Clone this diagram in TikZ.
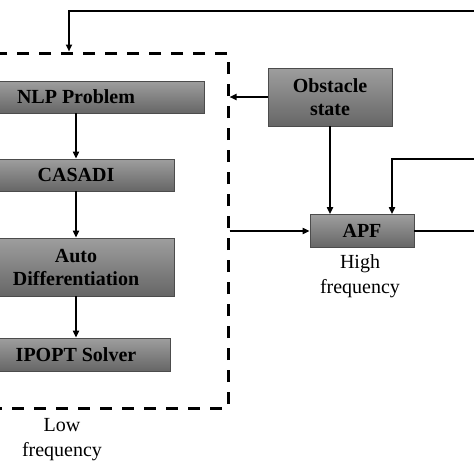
\documentclass[tikz,border=0pt]{standalone}
\usepackage{fontspec}
\setmainfont{Liberation Serif}
\usetikzlibrary{arrows.meta}

\begin{document}
\begin{tikzpicture}[x=1pt,y=-1pt,
  blk/.style={draw=black!70, line width=0.7pt, top color=black!38, bottom color=black!60,
    minimum height=32pt, inner sep=0pt, align=center,
    font=\fontsize{20}{23}\selectfont\bfseries},
  arr/.style={line width=2pt, -{Triangle[length=7pt,width=6pt]}},
  lbl/.style={align=center, font=\fontsize{20}{25}\selectfont}]
\useasboundingbox (0,0) rectangle (474,474);
\clip (0,0) rectangle (474,474);

\node[draw, line width=3pt, dash pattern=on 12pt off 10pt, minimum width=304pt,
  minimum height=355pt, inner sep=0pt] (low) at (76,230.5) {};

\node[blk, minimum width=256pt] (nlp) at (76,97) {NLP Problem};
\node[blk, minimum width=196pt] (cas) at (76,175) {CASADI};
\node[blk, minimum width=196pt, minimum height=58pt] (ad) at (76,267) {Auto\\Differentiation};
\node[blk, minimum width=188pt, minimum height=33pt] (ipopt) at (76,354.5) {IPOPT Solver};
\node[blk, minimum width=124pt, minimum height=58pt] (obs) at (330,97) {Obstacle\\state};
\node[blk, minimum width=104pt, minimum height=33pt] (apf) at (362,231) {APF};

\node[lbl] (hf) at (360,276) {High\\frequency};
\node[lbl] (lf) at (62,440) {Low\\frequency};

\coordinate (fb1) at (474,11);
\coordinate (fb2) at (474,159);
\coordinate (out) at (474,231);

\draw[arr] (nlp) -- (cas);
\draw[arr] (cas) -- (ad);
\draw[arr] (ad) -- (ipopt);
\draw[arr] (obs.west) -- (obs.west -| low.east);
\draw[arr] (obs.south) -- (obs.south |- apf.north);
\draw[arr] (low.east |- apf.west) -- (apf.west);
\draw[line width=2pt] (apf.east) -- (apf.east -| out);
\draw[arr] (fb2) -| ([xshift=30pt]apf.north);
\draw[arr] (fb1) -| ([xshift=-7pt]low.north);

\end{tikzpicture}
\end{document}
